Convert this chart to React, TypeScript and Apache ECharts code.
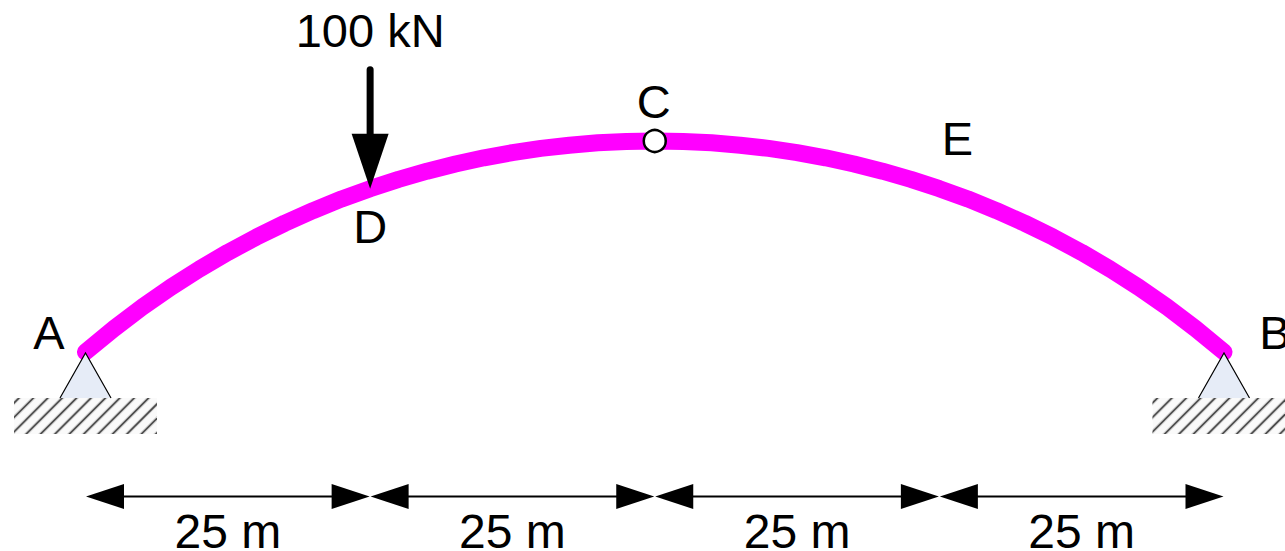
import React, { useEffect, useRef } from "react";
import * as echarts from "echarts";

// Arch geometry in metres
const archX = [0, 2.5, 5, 7.5, 10, 12.5, 15, 17.5, 20, 22.5, 25, 27.5, 30, 32.5, 35, 37.5, 40, 42.5, 45, 47.5, 50, 52.5, 55, 57.5, 60, 62.5, 65, 67.5, 70, 72.5, 75, 77.5, 80, 82.5, 85, 87.5, 90, 92.5, 95, 97.5, 100];
const archY = [0, 2.06, 3.96, 5.71, 7.31, 8.78, 10.12, 11.35, 12.47, 13.49, 14.4, 15.22, 15.94, 16.57, 17.12, 17.58, 17.95, 18.23, 18.44, 18.56, 18.6, 18.56, 18.44, 18.23, 17.95, 17.58, 17.12, 16.57, 15.94, 15.22, 14.4, 13.49, 12.47, 11.35, 10.12, 8.78, 7.31, 5.71, 3.96, 2.06, 0];
const supportX = [0, 100];
const dimStations = [0, 25, 50, 75, 100];
const dimLabels = ["25 m", "25 m", "25 m", "25 m"];
const loadLabel = "100 kN";
const loadAt = [25, 14.4];
const hingeAt = [50, 18.6];
const pointNames = ["A", "B", "C", "D", "E"];
const pointAt = [[0, 0], [100, 0], [50, 18.6], [25, 14.4], [75, 14.4]];

const FONT = "'Liberation Sans', Arial, sans-serif";
const W = 1285;
const DIM_Y = 144.5; // px below the springing line
const pointOffsets = [[-36.5, -20], [51, -20], [-1, -40], [0, 38], [18, -50]];

function hatchLines(x0: number, x1: number, y0: number, y1: number) {
  const out: any[] = [];
  const step = 14.4;
  const h = y1 - y0;
  for (let b = x0 + 5; b < x1 + h + 10; b += step) {
    const shape = { x1: b + 4, y1: y0 - 4, x2: b - h - 4, y2: y1 + 4 };
    out.push({ type: "line", shape, style: { stroke: "#d4d4d4", lineWidth: 3.6 } });
    out.push({ type: "line", shape, style: { stroke: "#4a4a4a", lineWidth: 1.6 } });
  }
  return out;
}

export default function App() {
  const ref = useRef<HTMLDivElement>(null);

  useEffect(() => {
    document.body.style.margin = "0";
    const chart = echarts.init(ref.current!, null, { renderer: "svg" });
    const text = (t: string, x: number, y: number, size = 47) => ({
      type: "text",
      x,
      y,
      style: { text: t, fontFamily: FONT, fontSize: size, lineHeight: 38, fill: "#000", align: "center", verticalAlign: "middle" },
    });

    chart.setOption({
      animation: false,
      backgroundColor: "#ffffff",
      grid: { left: 85.5, width: 1138.5, top: 141, height: 211, containLabel: false },
      xAxis: { type: "value", min: 0, max: 100, show: false },
      yAxis: { type: "value", min: 0, max: 18.6, show: false },
      tooltip: { show: false },
      series: [
        {
          type: "line",
          data: archX.map((x, i) => [x, archY[i]]),
          smooth: false,
          clip: false,
          symbol: "none",
          silent: true,
          lineStyle: { color: "#ff00ff", width: 17, cap: "round", join: "round" },
          z: 2,
        },
        {
          type: "custom",
          data: supportX.map((x) => [x, 0]),
          silent: true,
          z: 3,
          renderItem: (_p: any, api: any) => {
            const [cx, cy] = api.coord([api.value(0), 0]);
            const top = cy + 1;
            const base = cy + 46;
            const x0 = cx - 71.5;
            const x1 = Math.min(cx + 71.5, W);
            const gy0 = base, gy1 = base + 36;
            return {
              type: "group",
              children: [
                {
                  type: "group",
                  clipPath: { type: "rect", shape: { x: x0, y: gy0, width: x1 - x0, height: gy1 - gy0 } },
                  children: [
                    { type: "rect", shape: { x: x0, y: gy0, width: x1 - x0, height: gy1 - gy0 }, style: { fill: "#fafafa" } },
                    ...hatchLines(x0, x1, gy0, gy1),
                  ],
                },
                { type: "polygon", shape: { points: [[cx, top], [cx - 25.5, base], [cx + 25.5, base]] }, style: { fill: "#e6ecf7" } },
                { type: "polyline", shape: { points: [[cx - 25.5, base], [cx, top], [cx + 25.5, base]] }, style: { fill: "none", stroke: "#000", lineWidth: 1.2 } },
              ],
            };
          },
        },
        {
          type: "custom",
          data: [loadAt],
          silent: true,
          z: 4,
          renderItem: (_p: any, api: any) => {
            const [x, y] = api.coord([api.value(0), api.value(1)]);
            return {
              type: "group",
              children: [
                { type: "line", shape: { x1: x, y1: y - 119, x2: x, y2: y - 50 }, style: { stroke: "#000", lineWidth: 7, lineCap: "round" } },
                { type: "polygon", shape: { points: [[x - 18.5, y - 55], [x + 18.5, y - 55], [x, y]] }, style: { fill: "#000" } },
                text(loadLabel, x, y - 158),
              ],
            };
          },
        },
        {
          type: "scatter",
          data: [hingeAt],
          symbol: "circle",
          symbolSize: 22,
          clip: false,
          silent: true,
          itemStyle: { color: "#ffffff", borderColor: "#000", borderWidth: 2.5, opacity: 1 },
          z: 5,
        },
        {
          type: "custom",
          data: dimLabels.map((_, i) => [dimStations[i], dimStations[i + 1]]),
          silent: true,
          z: 4,
          renderItem: (p: any, api: any) => {
            const [xa, y0] = api.coord([api.value(0), 0]);
            const [xb] = api.coord([api.value(1), 0]);
            const y = y0 + DIM_Y;
            return {
              type: "group",
              children: [
                { type: "line", shape: { x1: xa + 30, y1: y, x2: xb - 30, y2: y }, style: { stroke: "#000", lineWidth: 2 } },
                { type: "polygon", shape: { points: [[xa + 0.5, y], [xa + 38.5, y - 12.5], [xa + 38.5, y + 12.5]] }, style: { fill: "#000" } },
                { type: "polygon", shape: { points: [[xb - 0.5, y], [xb - 38.5, y - 12.5], [xb - 38.5, y + 12.5]] }, style: { fill: "#000" } },
                text(dimLabels[p.dataIndex], (xa + xb) / 2, y + 34.5, 48),
              ],
            };
          },
        },
        {
          type: "custom",
          data: pointAt,
          silent: true,
          z: 6,
          renderItem: (p: any, api: any) => {
            const [x, y] = api.coord([api.value(0), api.value(1)]);
            const [dx, dy] = pointOffsets[p.dataIndex];
            return text(pointNames[p.dataIndex], x + dx, y + dy);
          },
        },
      ],
    });
    return () => chart.dispose();
  }, []);

  return <div ref={ref} style={{ position: "absolute", left: 0, top: 0, width: W, height: 551 }} />;
}
